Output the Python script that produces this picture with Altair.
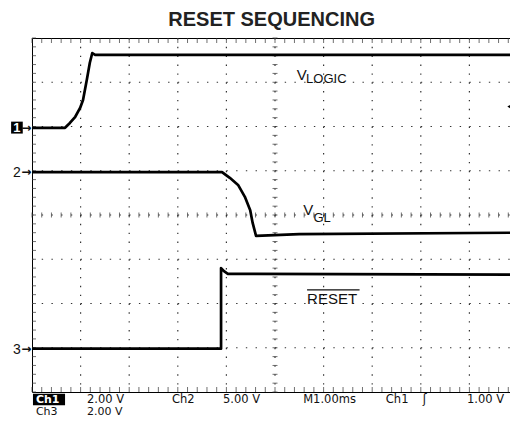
import altair as alt
import pandas as pd

# ---- traces: time in divisions (1 ms/div), level in divisions ----
vlogic_t = [0.0, 0.68, 0.78, 0.89, 0.99, 1.05, 1.13, 1.19, 1.24, 1.30, 10.0]
vlogic_v = [1.97, 1.97, 2.08, 2.22, 2.42, 2.60, 3.07, 3.44, 3.66, 3.62, 3.62]
vgl_t = [0.0, 3.91, 4.07, 4.24, 4.38, 4.49, 4.54, 4.61, 5.5, 10.0]
vgl_v = [0.97, 0.97, 0.84, 0.68, 0.41, 0.11, -0.18, -0.47, -0.43, -0.40]
reset_t = [0.0, 3.89, 3.89, 3.95, 4.03, 10.0]
reset_v = [-3.02, -3.02, -1.20, -1.27, -1.33, -1.35]

# ---- graticule ----
grid_x = [1, 2, 3, 4, 5, 6, 7, 8, 9]
grid_y = [-3, -2, -1, 0, 1, 2, 3]
x_minor = [i / 5 for i in range(51)]
y_minor = [i / 5 - 4 for i in range(41)]

# ---- annotation texts ----
status1_text = ["2.00 V", "Ch2", "5.00 V", "M1.00ms", "Ch1", "\u0283", "1.00 V"]
status1_x = [1.13, 2.88, 3.93, 5.58, 7.28, 8.04, 8.95]
status2_text = ["Ch3", "2.00 V"]
status2_x = [0.08, 1.13]

rows = []
for name, ts, vs in [("VLOGIC", vlogic_t, vlogic_v), ("VGL", vgl_t, vgl_v), ("RESET", reset_t, reset_v)]:
    for i, (t, v) in enumerate(zip(ts, vs)):
        rows.append({"series": name, "i": i, "t": t, "v": v})
traces = pd.DataFrame(rows)

xs = alt.Scale(domain=[0, 10], nice=False, zero=False)
ys = alt.Scale(domain=[-4, 4], nice=False, zero=False)


def X(f="x"):
    return alt.X(f"{f}:Q", scale=xs, axis=None)


def Y(f="y"):
    return alt.Y(f"{f}:Q", scale=ys, axis=None)


gv = alt.Chart(pd.DataFrame({"x": grid_x, "y": 4, "y2": -4})).mark_rule(
    color="#333", strokeWidth=1.2, strokeDash=[1.4, 7.45]
).encode(x=X(), y=Y(), y2="y2:Q")
gh = alt.Chart(pd.DataFrame({"y": grid_y, "x": 0, "x2": 10})).mark_rule(
    color="#333", strokeWidth=1.2, strokeDash=[1.4, 8.32]
).encode(y=Y(), x=X(), x2="x2:Q")

top_t = alt.Chart(pd.DataFrame({"x": x_minor, "y": 4})).mark_tick(
    orient="vertical", size=5, thickness=1, yOffset=2.5, color="#333"
).encode(x=X(), y=Y())
bot_t = alt.Chart(pd.DataFrame({"x": x_minor, "y": -4})).mark_tick(
    orient="vertical", size=5, thickness=1, yOffset=-2.5, color="#333"
).encode(x=X(), y=Y())
cen_h = alt.Chart(pd.DataFrame({"x": x_minor, "y": 0})).mark_tick(
    orient="vertical", size=5, thickness=1, color="#333"
).encode(x=X(), y=Y())
left_t = alt.Chart(pd.DataFrame({"y": y_minor, "x": 0})).mark_tick(
    orient="horizontal", size=4, thickness=1, xOffset=2, color="#333"
).encode(x=X(), y=Y())
cen_v = alt.Chart(pd.DataFrame({"y": y_minor, "x": 5})).mark_tick(
    orient="horizontal", size=5, thickness=1, color="#333"
).encode(x=X(), y=Y())

lines = alt.Chart(traces).mark_line(color="black", strokeWidth=2.7, strokeJoin="round").encode(
    x=X("t"), y=Y("v"), detail="series:N", order="i:Q"
)

# trace labels
lab_big = alt.Chart(pd.DataFrame({
    "x": [5.45, 5.58, 5.66], "y": [3.05, 0.0, -2.01], "text": ["V", "V", "RESET"]
})).mark_text(align="left", baseline="alphabetic", font="Liberation Sans", fontSize=15, color="#111").encode(
    x=X(), y=Y(), text="text:N")
lab_sub = alt.Chart(pd.DataFrame({
    "x": [5.64, 5.79], "y": [2.98, -0.16], "text": ["LOGIC", "GL"]
})).mark_text(align="left", baseline="alphabetic", font="Liberation Sans", fontSize=13, color="#111").encode(
    x=X(), y=Y(), text="text:N")
overline = alt.Chart(pd.DataFrame({"x": [5.66], "x2": [6.74], "y": [-1.69]})).mark_rule(
    color="#111", strokeWidth=1.2).encode(x=X(), x2="x2:Q", y=Y())

# channel markers
mark_box = alt.Chart(pd.DataFrame({"x": [-0.43], "x2": [-0.19], "y": [2.11], "y2": [1.84]})).mark_rect(
    color="black").encode(x=X(), x2="x2:Q", y=Y(), y2="y2:Q")
mark_one = alt.Chart(pd.DataFrame({"x": [-0.31], "y": [1.97], "text": ["1"]})).mark_text(
    font="Liberation Sans", fontSize=13, fontWeight="bold", color="white", baseline="middle").encode(
    x=X(), y=Y(), text="text:N")
mark_num = alt.Chart(pd.DataFrame({"x": [-0.39, -0.39], "y": [0.86, -3.14], "text": ["2", "3"]})).mark_text(
    font="Liberation Sans", fontSize=14, align="left", baseline="alphabetic", color="#111").encode(
    x=X(), y=Y(), text="text:N")
arrows = alt.Chart(pd.DataFrame({"x": [-0.12, -0.12, -0.12], "y": [1.97, 0.97, -3.02], "text": ["\u2192"] * 3})).mark_text(
    font="DejaVu Sans", fontSize=12, fontWeight="bold", baseline="middle", color="#111").encode(
    x=X(), y=Y(), text="text:N")

# trigger level marker
trig = alt.Chart(pd.DataFrame({"x": [9.84], "y": [2.45]})).mark_point(
    shape="triangle-left", filled=True, size=45, color="black", opacity=1).encode(x=X(), y=Y())
trig_l = alt.Chart(pd.DataFrame({"x": [9.86], "x2": [10.0], "y": [2.45]})).mark_rule(
    color="black", strokeWidth=1).encode(x=X(), x2="x2:Q", y=Y())

# title
title = alt.Chart(pd.DataFrame({"x": [4.93], "y": [4.26], "text": ["RESET SEQUENCING"]})).mark_text(
    font="Liberation Sans", fontSize=20, fontWeight="bold", baseline="alphabetic", color="#222").encode(
    x=X(), y=Y(), text="text:N")

# status line
ch1_box = alt.Chart(pd.DataFrame({"x": [0.02], "x2": [0.68], "y": [-4.04], "y2": [-4.30]})).mark_rect(
    color="black").encode(x=X(), x2="x2:Q", y=Y(), y2="y2:Q")
ch1_txt = alt.Chart(pd.DataFrame({"x": [0.08], "y": [-4.25], "text": ["Ch1"]})).mark_text(
    font="DejaVu Sans", fontSize=11, fontWeight="bold", align="left", baseline="alphabetic", color="white").encode(
    x=X(), y=Y(), text="text:N")
st1 = alt.Chart(pd.DataFrame({"x": status1_x, "y": -4.25, "text": status1_text})).mark_text(
    font="DejaVu Sans", fontSize=11.5, align="left", baseline="alphabetic", color="#111").encode(
    x=X(), y=Y(), text="text:N")
st2 = alt.Chart(pd.DataFrame({"x": status2_x, "y": -4.53, "text": status2_text})).mark_text(
    font="DejaVu Sans", fontSize=11, align="left", baseline="alphabetic", color="#111").encode(
    x=X(), y=Y(), text="text:N")

chart = alt.layer(
    gv, gh, top_t, bot_t, cen_h, left_t, cen_v, lines,
    lab_big, lab_sub, overline, mark_box, mark_one, mark_num, arrows,
    trig, trig_l, title, ch1_box, ch1_txt, st1, st2,
).properties(
    width=486, height=354,
    autosize="none",
    padding={"left": 24, "top": 30, "right": -8, "bottom": 25},
    background="white",
).configure_view(stroke="black", strokeWidth=1)

chart.save("out.html", embed_options={"renderer": "svg", "actions": False})
